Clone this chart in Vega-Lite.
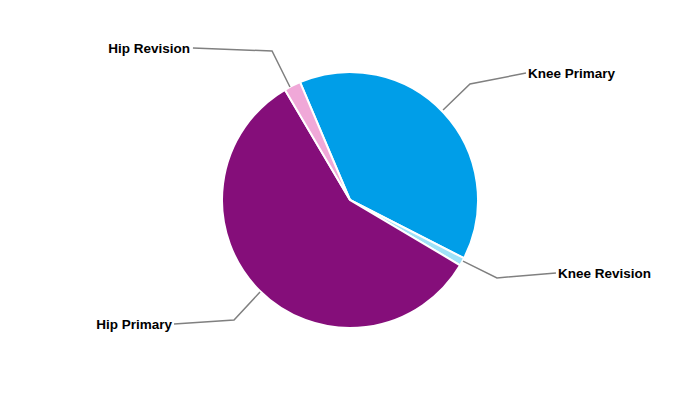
{
  "$schema": "https://vega.github.io/schema/vega-lite/v6.json",
  "width": 700,
  "height": 400,
  "padding": 0,
  "autosize": {"type": "fit", "contains": "padding"},
  "config": {"view": {"stroke": null}},
  "datasets": {
    "slices": [
      {"category": "Knee Primary", "share": 38.9, "order": 1},
      {"category": "Knee Revision", "share": 1.0, "order": 2},
      {"category": "Hip Primary", "share": 58.0, "order": 3},
      {"category": "Hip Revision", "share": 2.1, "order": 4}
    ],
    "leaders": [
      {"category": "Hip Revision", "step": 1, "x": -0.469, "y": 0.883},
      {"category": "Hip Revision", "step": 2, "x": -0.609, "y": 1.164},
      {"category": "Hip Revision", "step": 3, "x": -1.227, "y": 1.1875},
      {"category": "Knee Primary", "step": 1, "x": 0.727, "y": 0.703},
      {"category": "Knee Primary", "step": 2, "x": 0.9375, "y": 0.906},
      {"category": "Knee Primary", "step": 3, "x": 1.375, "y": 0.992},
      {"category": "Knee Revision", "step": 1, "x": 0.883, "y": -0.477},
      {"category": "Knee Revision", "step": 2, "x": 1.148, "y": -0.609},
      {"category": "Knee Revision", "step": 3, "x": 1.609, "y": -0.570},
      {"category": "Hip Primary", "step": 1, "x": -0.703, "y": -0.719},
      {"category": "Hip Primary", "step": 2, "x": -0.906, "y": -0.9375},
      {"category": "Hip Primary", "step": 3, "x": -1.375, "y": -0.969}
    ],
    "labels": [
      {"category": "Hip Revision", "x": -1.25, "y": 1.18, "side": "right"},
      {"category": "Knee Primary", "x": 1.39, "y": 0.985, "side": "left"},
      {"category": "Knee Revision", "x": 1.625, "y": -0.577, "side": "left"},
      {"category": "Hip Primary", "x": -1.39, "y": -0.976, "side": "right"}
    ]
  },
  "layer": [
    {
      "data": {"name": "slices"},
      "mark": {"type": "arc", "outerRadius": 128, "stroke": "white", "strokeWidth": 2},
      "encoding": {
        "theta": {"field": "share", "type": "quantitative", "stack": true, "scale": {"range": [-0.401, 5.882]}},
        "order": {"field": "order", "type": "quantitative"},
        "color": {
          "field": "category",
          "type": "nominal",
          "legend": null,
          "scale": {
            "domain": ["Knee Primary", "Knee Revision", "Hip Primary", "Hip Revision"],
            "range": ["#009EE8", "#A0E2F8", "#850E7A", "#F0A8D8"]
          }
        }
      }
    },
    {
      "data": {"name": "leaders"},
      "mark": {"type": "line", "color": "#808080", "strokeWidth": 1.5},
      "encoding": {
        "x": {"field": "x", "type": "quantitative", "axis": null, "scale": {"domain": [-2.734375, 2.734375]}},
        "y": {"field": "y", "type": "quantitative", "axis": null, "scale": {"domain": [-1.5625, 1.5625]}},
        "detail": {"field": "category"},
        "order": {"field": "step", "type": "quantitative"}
      }
    },
    {
      "data": {"name": "labels"},
      "transform": [{"filter": "datum.side === 'left'"}],
      "mark": {"type": "text", "align": "left", "baseline": "middle", "font": "Liberation Sans", "fontWeight": "bold", "fontSize": 13.5, "color": "black"},
      "encoding": {
        "x": {"field": "x", "type": "quantitative", "axis": null, "scale": {"domain": [-2.734375, 2.734375]}},
        "y": {"field": "y", "type": "quantitative", "axis": null, "scale": {"domain": [-1.5625, 1.5625]}},
        "text": {"field": "category"}
      }
    },
    {
      "data": {"name": "labels"},
      "transform": [{"filter": "datum.side === 'right'"}],
      "mark": {"type": "text", "align": "right", "baseline": "middle", "font": "Liberation Sans", "fontWeight": "bold", "fontSize": 13.5, "color": "black"},
      "encoding": {
        "x": {"field": "x", "type": "quantitative", "axis": null, "scale": {"domain": [-2.734375, 2.734375]}},
        "y": {"field": "y", "type": "quantitative", "axis": null, "scale": {"domain": [-1.5625, 1.5625]}},
        "text": {"field": "category"}
      }
    }
  ]
}
